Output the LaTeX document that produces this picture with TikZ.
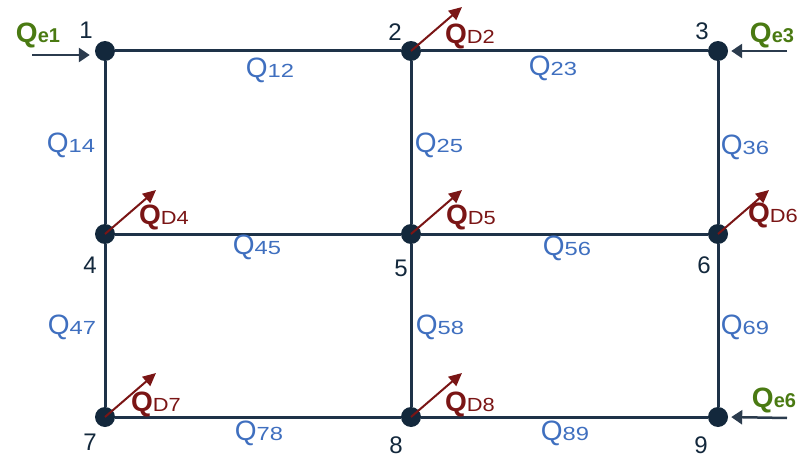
\documentclass[tikz,border=0pt]{standalone}
\usepackage{fontspec}
\setmainfont{Liberation Sans}
\usetikzlibrary{arrows.meta}

\definecolor{navy}{HTML}{13283C}
\definecolor{lineclr}{HTML}{1E3248}
\definecolor{qblue}{HTML}{3F6FBF}
\definecolor{dred}{HTML}{7A1515}
\definecolor{egreen}{HTML}{4A7A12}
\definecolor{inarrow}{HTML}{2B3B4D}

% pipe flow label Q_ij, demand label Q_Dk, inflow label Q_ek
\newcommand{\flowlbl}[1]{{\fontsize{28}{28}\selectfont Q}{\fontsize{19}{19}\selectfont\scalebox{1.25}[1]{#1}}}
\newcommand{\demlbl}[1]{{\fontsize{28}{28}\selectfont\bfseries Q}{\fontsize{19}{19}\selectfont\scalebox{1.15}[1]{#1}}}
\newcommand{\inlbl}[1]{{\fontsize{28}{28}\selectfont\bfseries Q}{\fontsize{20}{20}\selectfont\bfseries #1}}

\tikzset{
  junction/.style={circle, fill=navy, minimum size=20pt, inner sep=0pt},
  pipe/.style={line width=3pt, draw=lineclr},
  flow/.style={text=qblue, inner sep=0pt},
  num/.style={text=navy, font=\fontsize{24}{24}\selectfont, inner sep=0pt},
  demand/.style={-{Triangle[length=13pt,width=12pt]}, line width=2pt, draw=dred},
  dlabel/.style={text=dred, inner sep=0pt},
  inflow/.style={-{Triangle[length=11pt,width=14pt]}, line width=2.5pt, draw=inarrow},
  elabel/.style={text=egreen, inner sep=0pt},
}

\begin{document}
\begin{tikzpicture}[x=1pt,y=-1pt]
\useasboundingbox (0,0) rectangle (801,460);

% junctions
\node[junction] (n1) at (105,51) {};
\node[junction] (n2) at (411,51) {};
\node[junction] (n3) at (718,51) {};
\node[junction] (n4) at (105,234) {};
\node[junction] (n5) at (411,234) {};
\node[junction] (n6) at (718,234) {};
\node[junction] (n7) at (105,417) {};
\node[junction] (n8) at (411,417) {};
\node[junction] (n9) at (718,417) {};

% pipes
\draw[pipe] (n1) -- (n2);
\draw[pipe] (n2) -- (n3);
\draw[pipe] (n4) -- (n5);
\draw[pipe] (n5) -- (n6);
\draw[pipe] (n7) -- (n8);
\draw[pipe] (n8) -- (n9);
\draw[pipe] (n1) -- (n4);
\draw[pipe] (n4) -- (n7);
\draw[pipe] (n2) -- (n5);
\draw[pipe] (n5) -- (n8);
\draw[pipe] (n3) -- (n6);
\draw[pipe] (n6) -- (n9);

% junction numbers
\node[num] (l1) at (86,30) {1};
\node[num] (l2) at (395,32) {2};
\node[num] (l3) at (702,31) {3};
\node[num] (l4) at (90,265) {4};
\node[num] (l5) at (401,268) {5};
\node[num] (l6) at (704,265) {6};
\node[num] (l7) at (90,442) {7};
\node[num] (l8) at (396,445) {8};
\node[num] (l9) at (701,445) {9};

% pipe flows
\node[flow] (q12) at (270,70) {\flowlbl{12}};
\node[flow] (q23) at (553,68) {\flowlbl{23}};
\node[flow] (q14) at (71,145) {\flowlbl{14}};
\node[flow] (q25) at (439,145) {\flowlbl{25}};
\node[flow] (q36) at (745,147) {\flowlbl{36}};
\node[flow] (q45) at (257,247) {\flowlbl{45}};
\node[flow] (q56) at (567,248) {\flowlbl{56}};
\node[flow] (q47) at (72,327) {\flowlbl{47}};
\node[flow] (q58) at (440,327) {\flowlbl{58}};
\node[flow] (q69) at (745,327) {\flowlbl{69}};
\node[flow] (q78) at (259,433) {\flowlbl{78}};
\node[flow] (q89) at (565,433) {\flowlbl{89}};

% demand arrows
\foreach \k in {2,4,5,6,7,8}{
  \coordinate (t\k) at ([shift={(51,-44)}]n\k.center);
  \draw[demand] (n\k.center) -- (t\k);
}
\node[dlabel] (d2) at (470,36) {\demlbl{D2}};
\node[dlabel] (d4) at (164,217) {\demlbl{D4}};
\node[dlabel] (d5) at (471,217) {\demlbl{D5}};
\node[dlabel] (d6) at (773,215) {\demlbl{D6}};
\node[dlabel] (d7) at (156,404) {\demlbl{D7}};
\node[dlabel] (d8) at (470,404) {\demlbl{D8}};

% external inflows
\coordinate (s1) at (32,55);
\coordinate (s3) at (787,51);
\coordinate (s9) at (787,418);
\draw[inflow, shorten >=5pt] (s1) -- (s1 -| n1.west);
\draw[inflow, shorten >=3pt] (s3) -- (n3.east);
\draw[inflow, shorten >=3pt] (s9) -- (n9.east);
\node[elabel] (e1) at (38,35) {\inlbl{e1}};
\node[elabel] (e3) at (772,35) {\inlbl{e3}};
\node[elabel] (e6) at (774,400) {\inlbl{e6}};
\end{tikzpicture}
\end{document}
